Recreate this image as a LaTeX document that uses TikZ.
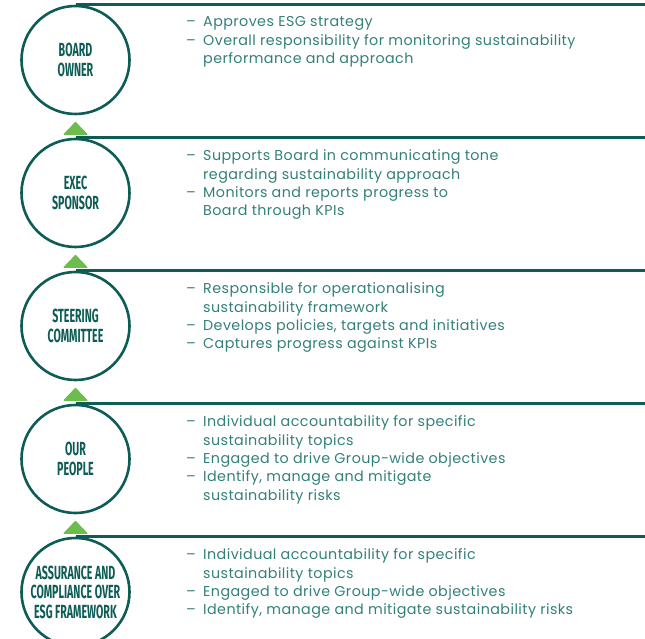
\documentclass[tikz,border=0pt]{standalone}
\usepackage{fontspec}
\usetikzlibrary{calc}
\setmainfont[LetterSpace=3]{Poppins}
\newfontfamily\labelfont[FakeStretch=0.56]{Fira Sans}
\definecolor{deepteal}{HTML}{0D5C55}
\definecolor{textteal}{HTML}{33807A}
\definecolor{leafgreen}{HTML}{6CBD4E}
\newcommand{\noteitem}[1]{\makebox[17pt][l]{–}#1}
\newcommand{\notecont}[1]{\hspace*{17pt}#1}
\begin{document}
\begin{tikzpicture}[x=1pt,y=-1pt,
  ring/.style={circle, draw=deepteal, line width=2.6pt, minimum size=108pt,
    inner sep=0pt, align=center, text=deepteal,
    font=\labelfont\bfseries\fontsize{19}{19.5}\selectfont},
  rule/.style={draw=deepteal, line width=2.6pt},
  uptri/.style={fill=leafgreen, draw=leafgreen, line width=1pt, line join=round},
  notes/.style={anchor=north west, inner sep=0pt, align=left, text=textteal,
    font=\fontsize{14.3}{18.3}\selectfont}]
\useasboundingbox (0,0) rectangle (645,639);
\clip (0,0) rectangle (645,639);

% the five levels of the governance structure
\node[ring] (board) at (75.5,60)  {BOARD\\OWNER};
\node[ring] (exec)  at (75.5,193) {EXEC\\SPONSOR};
\node[ring] (steer) at (75.5,326) {STEERING\\COMMITTEE};
\node[ring] (people) at (75.5,459) {OUR\\PEOPLE};
\node[ring] (assure) at (75.5,592) {ASSURANCE AND\\COMPLIANCE OVER\\ESG FRAMEWORK};

% horizontal rules leaving the top of each circle
\foreach \n in {board,exec,steer,people,assure}{
  \coordinate (\n-end) at (\n.north -| 650,0);
  \draw[rule] (\n.north) -- (\n-end);
}

% upward markers between levels
\foreach \lo/\hi in {exec/board,steer/exec,people/steer,assure/people}{
  \coordinate (\lo-tip) at ($(\hi.south)+(0,7)$);
  \fill[uptri] (\lo-tip) -- ++(11.5,12) -- ++(-23,0) -- cycle;
}

% responsibilities
\node[notes] (board-notes) at ($(board.north)+(110.5,12)$) {%
  \noteitem{Approves ESG strategy}\\
  \noteitem{Overall responsibility for monitoring sustainability}\\
  \notecont{performance and approach}};
\node[notes] (exec-notes) at ($(exec.north)+(110.5,12)$) {%
  \noteitem{Supports Board in communicating tone}\\
  \notecont{regarding sustainability approach}\\
  \noteitem{Monitors and reports progress to}\\
  \notecont{Board through KPIs}};
\node[notes] (steer-notes) at ($(steer.north)+(110.5,12)$) {%
  \noteitem{Responsible for operationalising}\\
  \notecont{sustainability framework}\\
  \noteitem{Develops policies, targets and initiatives}\\
  \noteitem{Captures progress against KPIs}};
\node[notes] (people-notes) at ($(people.north)+(110.5,12)$) {%
  \noteitem{Individual accountability for specific}\\
  \notecont{sustainability topics}\\
  \noteitem{Engaged to drive Group-wide objectives}\\
  \noteitem{Identify, manage and mitigate}\\
  \notecont{sustainability risks}};
\node[notes] (assure-notes) at ($(assure.north)+(110.5,12)$) {%
  \noteitem{Individual accountability for specific}\\
  \notecont{sustainability topics}\\
  \noteitem{Engaged to drive Group-wide objectives}\\
  \noteitem{Identify, manage and mitigate sustainability risks}};
\end{tikzpicture}
\end{document}
